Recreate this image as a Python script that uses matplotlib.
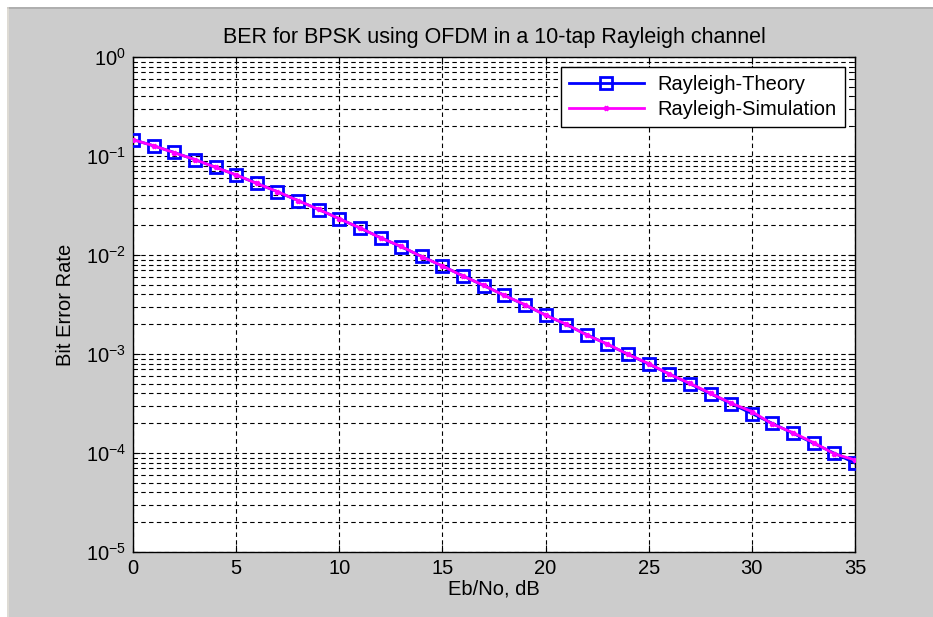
import numpy as np
import matplotlib
matplotlib.use("Agg")
import matplotlib.pyplot as plt
from matplotlib.patches import Rectangle
from matplotlib.ticker import LogLocator, NullFormatter, FixedLocator

ebno_db = list(range(0, 36))
ber_theory = [0.1464, 0.1267, 0.1085, 0.0919, 0.0771, 0.0642, 0.0530, 0.0435,
              0.0355, 0.0288, 0.0233, 0.0187, 0.0150, 0.0121, 0.00966, 0.00772,
              0.00616, 0.00491, 0.00392, 0.00312, 0.00248, 0.00198, 0.00157,
              0.00125, 0.000994, 0.00079, 0.000628, 0.000499, 0.000396,
              0.000315, 0.00025, 0.000199, 0.000158, 0.000125, 0.0000995,
              0.0000790]
ber_sim = [0.1460, 0.1270, 0.1080, 0.0921, 0.0769, 0.0644, 0.0528, 0.0437,
           0.0354, 0.0289, 0.0232, 0.0188, 0.0149, 0.0122, 0.00962, 0.00775,
           0.00612, 0.00494, 0.00390, 0.00315, 0.00246, 0.00200, 0.00155,
           0.00126, 0.000990, 0.00080, 0.000625, 0.000505, 0.000400,
           0.000318, 0.000262, 0.000196, 0.000160, 0.000127, 0.0000980,
           0.0000850]
x_ticks = [0, 5, 10, 15, 20, 25, 30, 35]
y_ticks = [1e-5, 1e-4, 1e-3, 1e-2, 1e-1, 1e0]

plt.rcParams["font.family"] = ["Liberation Sans", "DejaVu Sans"]
plt.rcParams["mathtext.fontset"] = "custom"
plt.rcParams["mathtext.rm"] = "Liberation Sans"

FS = 14.5
W, H = 933, 617
fig = plt.figure(figsize=(W / 100, H / 100), dpi=100, facecolor="white")

# MATLAB-style grey figure panel
fig.patches.append(Rectangle((9 / W, 0), 1, 1 - 9 / H, transform=fig.transFigure,
                             facecolor="#cccccc", edgecolor="none", zorder=-2))
fig.add_artist(plt.Line2D([8 / W, 1], [1 - 7.5 / H, 1 - 7.5 / H], color="#a0a0a0", lw=1.2))
fig.add_artist(plt.Line2D([8 / W, 8 / W], [0, 1 - 8 / H], color="#d8d4cc", lw=1.2))

ax = fig.add_axes([133 / W, 1 - 552 / H, (855 - 133) / W, (552 - 57) / H])
ax.set_facecolor("white")

ax.semilogy(ebno_db, ber_theory, color="#0000ff", lw=2, marker="s", ms=8.5,
            mfc="none", mec="#0000ff", mew=2, label="Rayleigh-Theory", zorder=3)
ax.semilogy(ebno_db, ber_sim, color="#ff00ff", lw=2, marker="x", ms=3.5,
            mew=2, label="Rayleigh-Simulation", zorder=4)

ax.set_xlim(0, 35)
ax.set_ylim(1e-5, 1)
ax.xaxis.set_major_locator(FixedLocator(x_ticks))
ax.yaxis.set_major_locator(FixedLocator(y_ticks))
ax.yaxis.set_minor_locator(LogLocator(base=10, subs=np.arange(2, 10), numticks=20))
ax.yaxis.set_minor_formatter(NullFormatter())
ax.set_yticklabels([r"$10^{-%d}$" % k for k in [5, 4, 3, 2, 1]] + [r"$10^{0}$"])

ax.grid(True, which="major", axis="x", color="black", ls=(0, (4, 3)), lw=0.8)
ax.grid(True, which="both", axis="y", color="black", ls=(0, (4, 3)), lw=0.8)
ax.set_axisbelow(True)

ax.tick_params(which="both", direction="in", top=True, right=True,
               labelsize=FS, colors="black", pad=5)
ax.tick_params(which="major", length=5)
ax.tick_params(which="minor", length=3)
for s in ax.spines.values():
    s.set_linewidth(1.0)

ax.set_title("BER for BPSK using OFDM in a 10-tap Rayleigh channel",
             fontsize=15.5, pad=10)
ax.set_xlabel("Eb/No, dB", fontsize=FS, labelpad=1)
ax.set_ylabel("Bit Error Rate", fontsize=FS, labelpad=8)

leg = ax.legend(loc="upper right", fontsize=FS, fancybox=False,
                edgecolor="black", framealpha=1, borderpad=0.4,
                labelspacing=0.3, handlelength=3.7, handletextpad=0.7,
                borderaxespad=0, bbox_to_anchor=(0.986, 0.980))
leg.get_frame().set_linewidth(1.0)

fig.savefig("out.png", dpi=100, facecolor=fig.get_facecolor())
